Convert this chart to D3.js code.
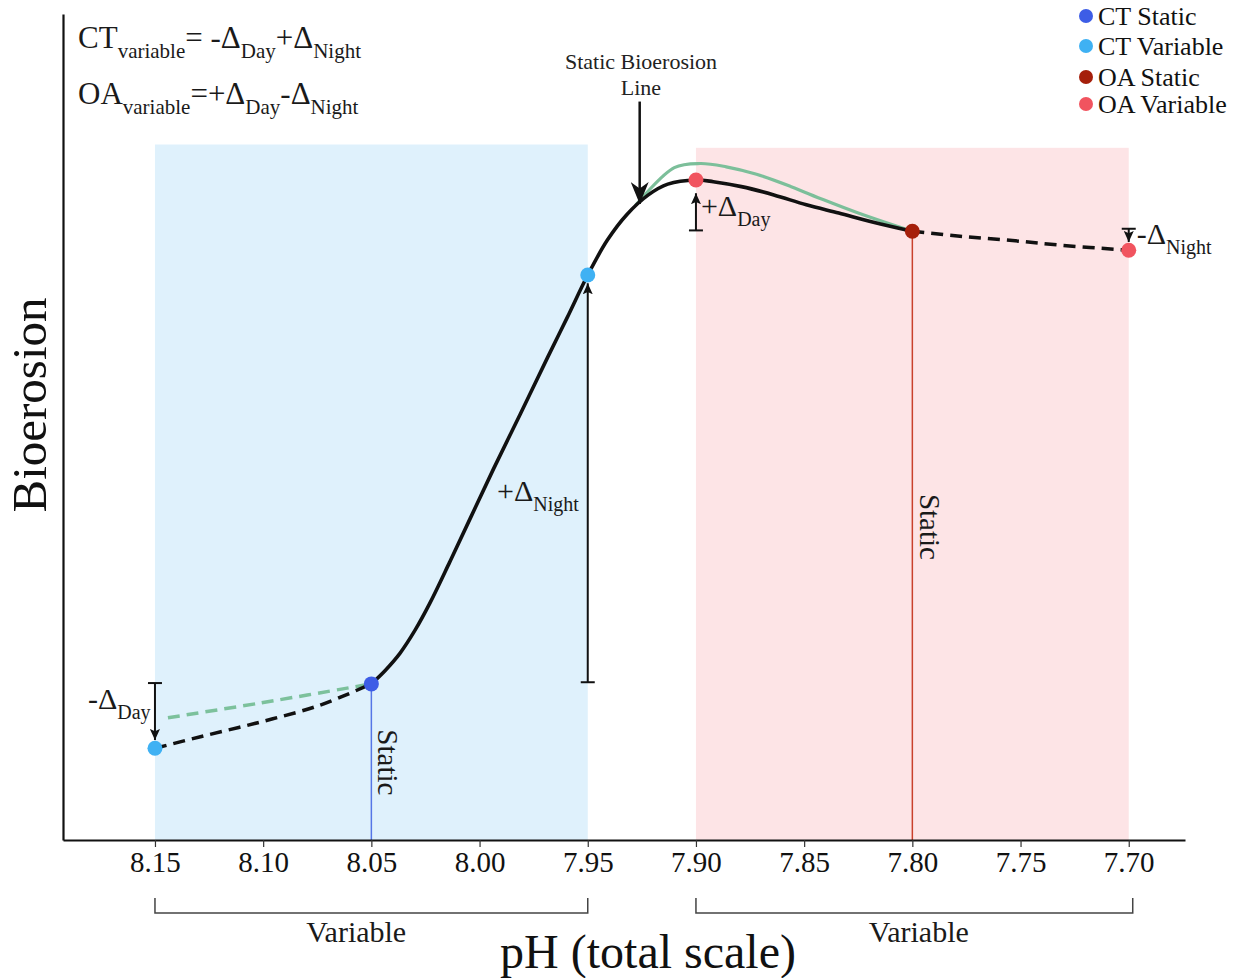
<!DOCTYPE html>
<html>
<head>
<meta charset="utf-8">
<script src="https://cdn.jsdelivr.net/npm/d3@7"></script>
<style>
  body { margin: 0; background: #fff; }
  text { font-family: "Liberation Serif", "Times New Roman", serif; }
</style>
</head>
<body>
<div id="chart"></div>
<script>
// x axis ticks (pH)
var tickValues = [8.15, 8.10, 8.05, 8.00, 7.95, 7.90, 7.85, 7.80, 7.75, 7.70];

// static bioerosion line (solid black)
var staticPH  = [8.05, 8.0437, 8.0368, 8.0298, 8.0229, 8.0137, 8.0042, 7.9936, 7.9811, 7.9686, 7.9594, 7.95, 7.941, 7.932, 7.922, 7.913, 7.90, 7.892, 7.879, 7.864, 7.849, 7.834, 7.818, 7.80];
var staticVal = [18.9, 20.5, 22.6, 25.4, 28.7, 33.7, 39.0, 44.9, 51.6, 58.4, 63.3, 68.4, 72.6, 75.7, 78.1, 79.4, 79.9, 79.7, 79.1, 78.1, 76.9, 75.9, 74.8, 73.7];

// green curve above the peak
var greenPH  = [7.928, 7.910, 7.898, 7.886, 7.872, 7.856, 7.841, 7.825, 7.806, 7.80];
var greenVal = [76.8, 81.4, 81.9, 81.5, 80.6, 79.1, 77.5, 75.9, 74.2, 73.7];

// dashed extensions
var dashLeftPH   = [8.15, 8.129, 8.101, 8.074, 8.05];
var dashLeftVal  = [11.1, 12.5, 14.3, 16.3, 18.9];
var greenDashPH  = [8.144, 8.101, 8.05];
var greenDashVal = [14.8, 16.6, 18.9];
var dashRightPH  = [7.80, 7.778, 7.755, 7.731, 7.70];
var dashRightVal = [73.7, 73.1, 72.6, 72.0, 71.4];

// treatment points
var pointPH    = [8.05, 8.15, 7.95, 7.80, 7.90, 7.70];
var pointVal   = [18.9, 11.1, 68.4, 73.7, 79.9, 71.4];
var pointGroup = ["CT Static", "CT Variable", "CT Variable", "OA Static", "OA Variable", "OA Variable"];

var legendLabels = ["CT Static", "CT Variable", "OA Static", "OA Variable"];
var legendColors = ["#3d5de6", "#3fb1f3", "#a51f0b", "#f1545f"];

// shaded variability ranges
var bandFrom = [8.15, 7.90];
var bandTo   = [7.95, 7.70];
var bandTop  = [84.2, 83.8];
var bandFill = ["#dff1fc", "#fde4e6"];

// delta arrows: x, start (flat cap), end (arrowhead)
var arrowPH   = [8.15, 7.95, 7.90, 7.70];
var arrowFrom = [19.0, 19.1, 73.8, 74.0];
var arrowTo   = [12.1, 67.4, 78.3, 72.4];

var width = 1242, height = 978;

var svg = d3.select('#chart')
    .append('svg')
    .attr('width', width)
    .attr('height', height)
    .style('background', '#fff');

var x = d3.scaleLinear().domain([8.1925, 7.674]).range([63, 1185]);
var y = d3.scaleLinear().domain([0, 100]).range([840, 14]);
var color = d3.scaleOrdinal().domain(legendLabels).range(legendColors);

var defs = svg.append('defs');
defs.append('marker')
    .attr('id', 'head')
    .attr('viewBox', '0 0 10 10')
    .attr('refX', 10).attr('refY', 5)
    .attr('markerWidth', 11).attr('markerHeight', 10)
    .attr('markerUnits', 'userSpaceOnUse')
    .attr('orient', 'auto')
    .attr('preserveAspectRatio', 'none')
    .append('path')
    .attr('d', 'M0,0 L10,5 L0,10 L2,5 z')
    .attr('fill', '#111');
defs.append('marker')
    .attr('id', 'bighead')
    .attr('viewBox', '0 0 10 10')
    .attr('refX', 10).attr('refY', 5)
    .attr('markerWidth', 22).attr('markerHeight', 18)
    .attr('markerUnits', 'userSpaceOnUse')
    .attr('orient', 'auto')
    .attr('preserveAspectRatio', 'none')
    .append('path')
    .attr('d', 'M0,0 L10,5 L0,10 L3,5 z')
    .attr('fill', '#111');

// bands
svg.append('g')
    .selectAll('rect')
    .data(bandFrom)
    .enter()
    .append('rect')
    .attr('x', (d) => x(d))
    .attr('y', (d, i) => y(bandTop[i]))
    .attr('width', (d, i) => x(bandTo[i]) - x(d))
    .attr('height', (d, i) => y(0) - y(bandTop[i]))
    .attr('fill', (d, i) => bandFill[i]);

// static drop lines
svg.append('line')
    .attr('x1', x(8.05)).attr('x2', x(8.05))
    .attr('y1', y(18.9)).attr('y2', y(0))
    .attr('stroke', '#5676e6').attr('stroke-width', 1.5);
svg.append('line')
    .attr('x1', x(7.80)).attr('x2', x(7.80))
    .attr('y1', y(73.7)).attr('y2', y(0))
    .attr('stroke', '#c9402c').attr('stroke-width', 1.5);

// axes
var xAxis = d3.axisBottom(x)
    .tickValues(tickValues)
    .tickFormat(d3.format('.2f'))
    .tickSize(7)
    .tickSizeOuter(0)
    .tickPadding(4);
var gx = svg.append('g')
    .attr('transform', 'translate(0,' + y(0) + ')')
    .call(xAxis);
gx.select('.domain').attr('stroke', '#111').attr('stroke-width', 2.2);
gx.selectAll('.tick line').attr('stroke', '#333').attr('stroke-width', 1.2);
gx.selectAll('.tick text')
    .attr('font-size', 29)
    .attr('fill', '#111')
    .style('font-family', '"Liberation Serif", serif');

var gy = svg.append('g')
    .attr('transform', 'translate(' + x.range()[0] + ',0)')
    .call(d3.axisLeft(y).ticks(0).tickSizeOuter(0));
gy.select('.domain').attr('stroke', '#111').attr('stroke-width', 2.2);

// curves
var line = d3.line()
    .x((d) => x(d[0]))
    .y((d) => y(d[1]))
    .curve(d3.curveCatmullRom.alpha(0.5));

function pairs(a, b) { return a.map((d, i) => [d, b[i]]); }

svg.append('path')
    .attr('d', line(pairs(greenDashPH, greenDashVal)))
    .attr('fill', 'none')
    .attr('stroke', '#7cc19c')
    .attr('stroke-width', 3.5)
    .attr('stroke-dasharray', '12,7');
svg.append('path')
    .attr('d', line(pairs(dashLeftPH, dashLeftVal)))
    .attr('fill', 'none')
    .attr('stroke', '#111')
    .attr('stroke-width', 3.5)
    .attr('stroke-dasharray', '12,7');
svg.append('path')
    .attr('d', line(pairs(dashRightPH, dashRightVal)))
    .attr('fill', 'none')
    .attr('stroke', '#111')
    .attr('stroke-width', 3.5)
    .attr('stroke-dasharray', '12,7');
svg.append('path')
    .attr('d', line(pairs(greenPH, greenVal)))
    .attr('fill', 'none')
    .attr('stroke', '#7cbf9a')
    .attr('stroke-width', 3.2);
svg.append('path')
    .attr('d', line(pairs(staticPH, staticVal)))
    .attr('fill', 'none')
    .attr('stroke', '#111')
    .attr('stroke-width', 3.6);

// delta arrows
var arrows = svg.append('g');
arrowPH.forEach((p, i) => {
    arrows.append('line')
        .attr('x1', x(p)).attr('x2', x(p))
        .attr('y1', y(arrowFrom[i])).attr('y2', y(arrowTo[i]))
        .attr('stroke', '#111').attr('stroke-width', 2)
        .attr('marker-end', 'url(#head)');
    arrows.append('line')
        .attr('x1', x(p) - 7).attr('x2', x(p) + 7)
        .attr('y1', y(arrowFrom[i])).attr('y2', y(arrowFrom[i]))
        .attr('stroke', '#111').attr('stroke-width', 2);
});

// "Static Bioerosion Line" pointer
svg.append('line')
    .attr('x1', x(7.926)).attr('x2', x(7.926))
    .attr('y1', y(89.4)).attr('y2', y(77.0))
    .attr('stroke', '#111').attr('stroke-width', 2.5)
    .attr('marker-end', 'url(#bighead)');
svg.append('text')
    .attr('x', x(7.9254)).attr('y', 69)
    .attr('text-anchor', 'middle')
    .attr('font-size', 22)
    .attr('fill', '#222')
    .text('Static Bioerosion');
svg.append('text')
    .attr('x', x(7.9254)).attr('y', 95)
    .attr('text-anchor', 'middle')
    .attr('font-size', 22)
    .attr('fill', '#222')
    .text('Line');

// points
svg.append('g')
    .selectAll('circle')
    .data(pointPH)
    .enter()
    .append('circle')
    .attr('cx', (d) => x(d))
    .attr('cy', (d, i) => y(pointVal[i]))
    .attr('r', 7.5)
    .attr('fill', (d, i) => color(pointGroup[i]));

// text with subscripts
function subText(g, px, py, parts, size, subSize, anchor) {
    var t = g.append('text')
        .attr('x', px).attr('y', py)
        .attr('fill', '#1a1a1a')
        .attr('text-anchor', anchor || 'start');
    var prevSub = false;
    parts.forEach((p) => {
        var isSub = p[1] === 1;
        var dy = isSub && !prevSub ? 10 : (!isSub && prevSub ? -10 : 0);
        t.append('tspan')
            .attr('dy', dy)
            .attr('font-size', isSub ? subSize : size)
            .text(p[0]);
        prevSub = isSub;
    });
    return t;
}

// formulas
subText(svg, 78, 48, [['CT', 0], ['variable', 1], ['= -Δ', 0], ['Day', 1], ['+Δ', 0], ['Night', 1]], 31, 21);
subText(svg, 78, 104, [['OA', 0], ['variable', 1], ['=+Δ', 0], ['Day', 1], ['-Δ', 0], ['Night', 1]], 31, 21);

// delta labels
subText(svg, x(8.15) - 67, y(15.9), [['-Δ', 0], ['Day', 1]], 30, 20);
subText(svg, x(7.95) - 9, y(41.0), [['+Δ', 0], ['Night', 1]], 30, 20, 'end');
subText(svg, x(7.90) + 5, y(75.5), [['+Δ', 0], ['Day', 1]], 30, 20);
subText(svg, x(7.70) + 8, y(72.2), [['-Δ', 0], ['Night', 1]], 30, 20);

// "Static" vertical labels
svg.append('text')
    .attr('transform', 'translate(' + (x(8.05) + 7) + ',' + y(9.4) + ') rotate(90)')
    .attr('text-anchor', 'middle')
    .attr('font-size', 29)
    .attr('fill', '#1a1a1a')
    .text('Static');
svg.append('text')
    .attr('transform', 'translate(' + (x(7.80) + 8) + ',' + y(37.9) + ') rotate(90)')
    .attr('text-anchor', 'middle')
    .attr('font-size', 29)
    .attr('fill', '#1a1a1a')
    .text('Static');

// brackets under the axis
var bracket = svg.append('g');
bandFrom.forEach((d, i) => {
    var x0 = x(d), x1 = x(bandTo[i]) + (i === 1 ? 4 : 0);
    bracket.append('path')
        .attr('d', 'M' + x0 + ',898 V913 H' + x1 + ' V898')
        .attr('fill', 'none')
        .attr('stroke', '#444')
        .attr('stroke-width', 1.5);
});
var bracketLabelPH = [8.057, 7.797];
bracket.selectAll('text')
    .data(bracketLabelPH)
    .enter()
    .append('text')
    .attr('x', (d) => x(d))
    .attr('y', 942)
    .attr('text-anchor', 'middle')
    .attr('font-size', 30)
    .attr('fill', '#1a1a1a')
    .text('Variable');

// axis titles
svg.append('text')
    .attr('x', 648).attr('y', 968)
    .attr('text-anchor', 'middle')
    .attr('font-size', 48)
    .attr('fill', '#111')
    .text('pH (total scale)');
svg.append('text')
    .attr('transform', 'translate(46,405) rotate(-90)')
    .attr('text-anchor', 'middle')
    .attr('font-size', 49)
    .attr('fill', '#111')
    .text('Bioerosion');

// legend
var legend = svg.append('g');
legend.selectAll('circle')
    .data(legendLabels)
    .enter()
    .append('circle')
    .attr('cx', 1086)
    .attr('cy', (d, i) => [16, 46, 77, 104][i])
    .attr('r', 7)
    .attr('fill', (d) => color(d));
legend.selectAll('text')
    .data(legendLabels)
    .enter()
    .append('text')
    .attr('x', 1098)
    .attr('y', (d, i) => [16, 46, 77, 104][i] + 9)
    .attr('font-size', 26)
    .attr('fill', '#111')
    .text((d) => d);
</script>
</body>
</html>
